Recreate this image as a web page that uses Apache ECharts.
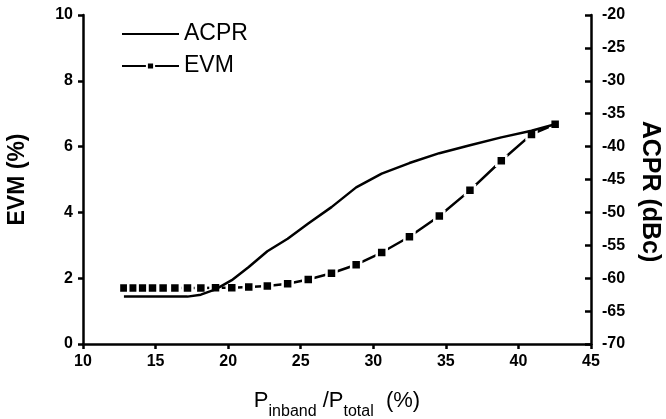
<!DOCTYPE html>
<html>
<head>
<meta charset="utf-8">
<script src="https://cdn.jsdelivr.net/npm/echarts@6/dist/echarts.min.js"></script>
<style>
  html, body { margin: 0; padding: 0; background: #fff; }
  #chart { width: 666px; height: 419px; }
</style>
</head>
<body>
<div id="chart"></div>
<script>
// In-band power fraction (%) at each measurement
const pInband = [12.82, 13.46, 14.11, 14.79, 15.52, 16.33, 17.20, 18.12, 19.13, 20.25,
                 21.42, 22.70, 24.10, 25.52, 27.12, 28.82, 30.58, 32.49, 34.55, 36.66,
                 38.82, 40.90, 42.53];
// EVM (%) at each point
const evm = [1.70, 1.70, 1.70, 1.70, 1.70, 1.70, 1.70, 1.70, 1.71, 1.71,
             1.73, 1.76, 1.83, 1.96, 2.15, 2.41, 2.78, 3.26, 3.89, 4.67,
             5.57, 6.37, 6.68];
// ACPR (dBc) at each point
const acpr = [-62.8, -62.8, -62.8, -62.8, -62.8, -62.8, -62.8, -62.5, -61.7, -60.3,
              -58.3, -55.9, -54.0, -51.7, -49.2, -46.2, -44.1, -42.5, -41.0, -39.8,
              -38.6, -37.6, -36.6];

const FONT = '"Liberation Sans", Arial, sans-serif';
const axisLine = { show: true, lineStyle: { color: '#000', width: 2.5 } };

const chart = echarts.init(document.getElementById('chart'), null, { renderer: 'canvas' });
chart.setOption({
  animation: false,
  backgroundColor: '#fff',
  grid: { left: 83, right: 75, top: 15, bottom: 75, containLabel: false, outerBoundsMode: 'none' },
  legend: {
    left: 116, top: 17, orient: 'vertical',
    itemWidth: 57, itemHeight: 9, itemGap: 8,
    textStyle: { fontFamily: FONT, fontSize: 23, color: '#000', lineHeight: 24 },
    data: [
      { name: 'ACPR', itemStyle: { opacity: 0 } },
      'EVM'
    ]
  },
  xAxis: {
    type: 'value', min: 10, max: 45, interval: 5,
    axisLine: axisLine,
    axisTick: { show: true, length: 5, lineStyle: { color: '#000', width: 2.5 } },
    axisLabel: { fontFamily: FONT, fontSize: 16, fontWeight: 'bold', color: '#000', margin: 10 },
    splitLine: { show: false },
    name: '{p|P}{s|inband}{p| /P}{s|total}{p|  (%)}',
    nameLocation: 'middle', nameGap: 46,
    nameTextStyle: {
      rich: {
        p: { fontFamily: FONT, fontSize: 22, color: '#000', verticalAlign: 'top', lineHeight: 30 },
        s: { fontFamily: FONT, fontSize: 16, color: '#000', verticalAlign: 'bottom', lineHeight: 16 }
      }
    }
  },
  yAxis: [
    {
      type: 'value', min: 0, max: 10, interval: 2, position: 'left',
      axisLine: axisLine,
      axisTick: { show: true, length: 5, lineStyle: { color: '#000', width: 2.5 } },
      axisLabel: { fontFamily: FONT, fontSize: 16, fontWeight: 'bold', color: '#000', margin: 10 },
      splitLine: { show: false },
      name: 'EVM (%)', nameLocation: 'middle', nameGap: 54, nameRotate: 90,
      nameTextStyle: { fontFamily: FONT, fontSize: 23, fontWeight: 'bold', color: '#000' }
    },
    {
      type: 'value', min: -70, max: -20, interval: 5, position: 'right',
      axisLine: axisLine,
      axisTick: { show: true, inside: true, length: 6, lineStyle: { color: '#000', width: 2.5 } },
      axisLabel: { fontFamily: FONT, fontSize: 16, fontWeight: 'bold', color: '#000', margin: 11 },
      splitLine: { show: false },
      name: 'ACPR (dBc)', nameLocation: 'middle', nameGap: 46, nameRotate: -90,
      nameTextStyle: { fontFamily: FONT, fontSize: 25, fontWeight: 'bold', color: '#000',
                       padding: [0, 0, 0, 24] }
    }
  ],
  series: [
    {
      name: 'EVM', type: 'line', yAxisIndex: 0,
      data: pInband.map((x, i) => [x, evm[i]]),
      symbol: 'rect', symbolSize: 10, showSymbol: true,
      lineStyle: { color: '#000', width: 2.5 },
      itemStyle: { color: '#000', borderColor: '#fff', borderWidth: 2.5 },
      z: 2
    },
    {
      name: 'ACPR', type: 'line', yAxisIndex: 1,
      data: pInband.map((x, i) => [x, acpr[i]]),
      symbol: 'none', showSymbol: false,
      lineStyle: { color: '#000', width: 2.5 },
      itemStyle: { color: '#000' },
      z: 3
    }
  ]
});
</script>
</body>
</html>
